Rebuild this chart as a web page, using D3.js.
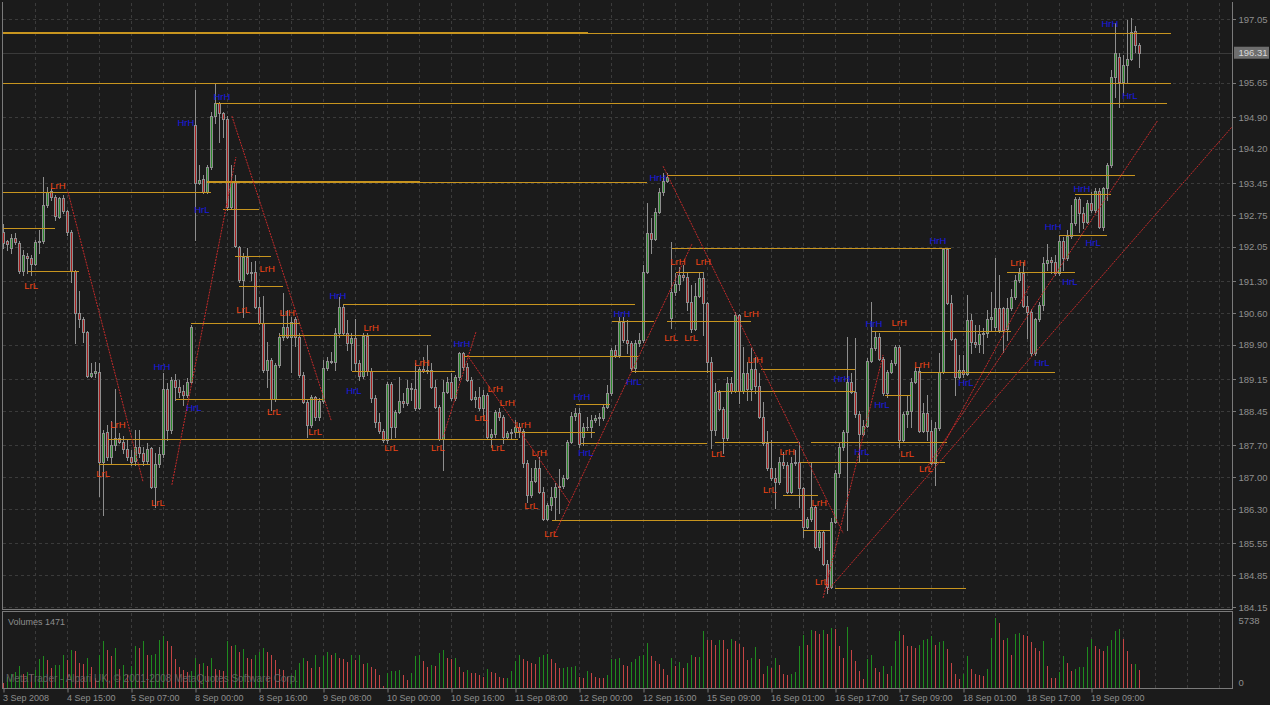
<!DOCTYPE html>
<html><head><meta charset="utf-8">
<script src="https://cdn.jsdelivr.net/npm/d3@7"></script>
<style>body{margin:0;background:#1b1b1b;overflow:hidden}svg{display:block}</style>
</head><body>
<svg id="chart" width="1270" height="705"></svg>
<script>
// ---------- DATA (GBPJPY H1) ----------
const opens=[192.38,192.18,192.03,192.25,192.14,191.52,191.85,191.81,191.68,192.16,192.18,192.97,193.28,193.15,192.71,193.12,192.84,192.38,191.52,190.60,190.47,190.18,189.22,189.28,189.30,187.33,187.99,187.44,187.70,187.86,187.77,187.62,187.44,187.35,187.66,187.53,187.35,187.64,186.78,187.29,187.51,188.93,188.03,189.13,188.98,188.88,188.80,189.09,194.72,193.45,193.54,193.26,193.80,194.92,195.21,194.99,194.86,192.93,193.47,192.05,191.32,191.83,191.48,191.50,190.73,190.38,189.35,189.57,188.71,189.46,190.07,190.29,190.07,190.47,190.07,189.24,188.65,188.14,188.76,188.32,188.67,189.39,189.55,189.53,190.16,190.73,190.16,189.94,190.05,189.50,189.22,190.10,189.33,188.74,188.21,188.01,187.81,189.04,188.10,188.43,188.67,188.63,188.96,188.93,188.52,189.37,189.33,189.35,188.98,188.54,187.84,188.87,189.09,188.74,189.20,189.72,189.42,189.13,188.71,188.76,188.52,188.80,187.88,187.95,188.43,188.32,187.88,187.97,188.00,188.10,188.01,187.31,186.61,186.91,187.20,186.67,186.08,186.39,186.56,186.78,186.80,186.98,187.77,188.34,188.40,187.88,188.10,188.09,188.25,188.30,188.30,188.54,188.84,189.79,189.68,190.40,190.01,189.94,189.39,189.94,190.01,191.50,192.36,192.22,192.82,193.26,193.50,190.49,191.06,191.24,191.43,191.39,190.84,190.25,190.97,191.37,190.82,189.53,188.03,188.87,188.49,187.86,189.07,188.89,190.56,188.89,189.28,188.93,189.37,189.00,188.32,187.75,187.20,186.98,186.89,187.33,187.27,186.67,187.31,187.33,186.76,185.90,186.08,186.34,185.47,185.80,185.09,184.59,186.01,187.09,187.66,187.99,189.09,188.87,188.38,187.95,188.12,189.55,189.83,190.07,189.59,188.84,189.31,189.50,189.85,187.81,188.38,188.45,189.09,189.33,188.01,188.40,188.01,187.31,188.08,189.31,192.01,190.82,190.03,189.20,189.35,189.26,190.45,189.96,189.92,190.14,190.16,190.47,190.30,190.71,190.71,190.25,190.71,190.95,191.32,191.48,190.75,190.62,189.72,190.47,190.78,191.70,191.76,191.72,191.48,192.18,191.81,192.29,192.58,193.10,192.79,192.60,193.01,192.86,193.28,192.49,193.34,193.85,195.78,196.22,195.67,196.04,196.17,196.79,196.48];
const highs=[192.55,192.20,192.33,192.36,192.18,191.98,191.92,191.87,192.20,192.42,193.58,193.36,193.34,193.19,193.15,193.19,192.86,192.42,191.54,191.08,190.51,190.21,189.50,189.53,189.50,188.03,188.14,188.23,188.93,187.97,187.90,187.81,187.60,188.03,188.03,187.66,187.75,187.66,187.53,187.66,189.28,189.07,189.20,189.26,189.13,189.02,189.17,190.34,195.49,193.85,193.63,193.85,195.01,195.65,195.23,195.01,194.92,193.85,193.63,192.07,191.92,192.03,191.72,191.74,190.95,190.97,189.96,189.61,189.50,190.16,191.04,190.67,190.51,190.51,190.16,189.31,188.69,188.80,188.78,188.74,189.57,189.63,189.74,190.27,190.95,190.77,190.45,190.16,190.47,189.57,190.16,190.16,189.39,188.80,188.40,188.05,189.09,189.09,188.47,189.20,188.84,189.13,189.07,189.50,189.42,189.63,189.89,189.50,189.13,188.58,189.13,189.20,189.28,189.24,189.74,189.74,189.50,189.20,188.89,188.98,188.91,188.84,188.05,188.47,188.52,188.36,188.01,188.05,188.25,188.18,188.05,187.38,187.20,187.38,187.44,186.78,186.43,186.78,186.87,187.18,187.05,187.81,188.43,188.52,188.52,188.18,188.32,188.36,188.36,188.40,188.58,189.02,189.83,189.89,190.51,190.51,190.45,189.98,190.01,190.16,191.65,193.01,192.69,192.90,193.34,193.67,193.67,192.16,191.48,191.61,191.65,191.50,191.21,191.26,191.48,191.50,190.84,189.63,189.07,188.91,188.54,189.20,189.20,190.62,190.58,189.85,189.53,189.83,189.63,189.28,188.65,188.01,187.81,187.20,187.44,187.55,187.33,187.44,187.60,187.77,186.78,186.12,187.31,186.39,185.84,185.82,185.18,186.10,187.16,187.77,188.03,190.07,189.28,190.05,188.45,188.25,189.61,190.84,190.18,190.16,189.63,189.35,189.57,189.89,189.89,188.43,188.80,189.17,189.42,189.42,188.63,188.80,188.25,188.21,189.72,192.03,192.03,191.00,190.05,189.68,189.68,191.00,190.58,190.34,190.34,190.27,190.67,191.06,191.81,191.43,190.73,190.93,191.13,191.43,191.59,191.72,190.97,190.69,190.49,190.84,191.83,192.11,191.83,191.87,192.31,192.27,192.42,192.97,193.15,193.15,192.93,193.08,193.26,193.34,193.34,193.36,193.89,195.93,196.96,196.30,196.26,197.03,197.07,196.90,196.52];
const lows=[192.03,191.98,191.92,192.11,191.47,191.43,191.48,191.43,191.65,191.92,192.14,192.93,193.08,192.64,192.68,192.79,192.31,191.28,189.94,190.29,189.96,189.19,189.19,189.20,186.59,186.17,187.38,187.31,187.60,187.75,187.53,187.38,187.27,187.27,187.44,187.27,187.31,186.76,186.34,187.22,187.44,187.81,187.97,188.69,188.76,188.58,188.76,189.07,192.20,193.43,193.23,193.23,193.76,194.77,194.35,194.46,192.86,192.90,192.05,191.28,190.51,191.46,191.32,190.71,190.36,189.31,188.98,188.47,188.67,189.42,190.01,190.05,189.31,189.87,189.20,188.63,187.88,188.10,188.25,188.25,188.63,189.35,189.50,189.35,190.07,190.12,189.79,189.35,189.35,189.13,189.17,189.24,188.65,188.10,187.97,187.77,187.75,187.86,187.88,188.40,188.54,188.58,188.69,188.47,188.50,189.31,189.28,188.96,188.52,187.81,187.16,188.85,188.69,188.69,189.13,189.35,189.11,188.69,188.54,188.47,188.25,187.86,187.66,187.88,188.25,187.75,187.86,187.86,187.88,187.88,187.22,186.45,186.56,186.89,186.65,186.06,186.06,186.28,186.06,186.21,186.76,186.96,187.75,188.25,187.66,187.70,188.03,187.88,188.21,188.14,188.25,188.52,188.80,189.63,189.63,189.96,189.72,189.35,189.31,189.87,189.96,191.48,191.92,192.20,192.79,193.19,193.47,190.27,191.00,191.11,191.32,190.67,190.18,190.23,190.95,190.12,189.31,187.64,187.92,188.47,187.53,187.81,188.85,188.87,188.63,188.85,188.69,188.69,188.85,188.30,187.71,187.16,186.94,186.32,186.85,187.20,186.65,186.65,187.27,186.34,185.68,185.88,186.04,185.44,185.40,185.07,184.46,184.57,185.99,187.00,187.60,185.84,188.85,188.32,187.33,187.92,188.10,189.53,189.79,189.57,188.80,188.76,189.28,189.46,187.66,187.77,188.10,188.10,189.07,187.99,187.99,187.81,187.29,186.83,188.03,189.28,190.80,190.01,188.80,189.17,189.20,189.24,189.72,189.85,189.74,189.72,190.07,190.23,190.23,190.18,189.74,190.01,190.67,190.91,191.28,190.73,190.05,189.68,189.68,190.43,190.67,191.54,191.48,191.43,191.43,191.54,191.76,192.25,192.53,192.38,192.47,192.58,192.82,192.82,192.47,192.42,193.08,193.80,195.34,195.12,195.38,195.67,196.15,196.33,196.00];
const closes=[192.14,192.11,192.25,192.16,191.52,191.87,191.81,191.68,192.16,192.18,192.97,193.26,193.15,192.73,193.12,192.84,192.38,191.52,190.60,190.47,190.18,189.22,189.28,189.33,187.33,187.97,187.44,187.70,187.86,187.77,187.62,187.44,187.33,187.66,187.53,187.35,187.62,186.78,187.29,187.51,188.93,188.03,189.13,188.98,188.86,188.80,189.09,190.29,193.45,193.52,193.26,193.80,194.92,195.21,194.99,194.86,192.93,193.47,192.07,191.32,191.83,191.48,191.50,190.73,190.38,189.35,189.57,188.71,189.46,190.07,190.29,190.07,190.40,190.07,189.24,188.65,188.14,188.76,188.32,188.67,189.39,189.55,189.53,190.16,190.73,190.16,189.94,190.05,189.50,189.22,190.10,189.33,188.74,188.21,188.01,187.81,189.04,188.10,188.43,188.67,188.63,188.96,188.93,188.52,189.37,189.33,189.35,188.98,188.54,187.84,188.87,189.09,188.74,189.20,189.72,189.42,189.13,188.71,188.76,188.52,188.80,187.88,187.95,188.43,188.32,187.88,187.97,188.00,188.10,188.01,187.31,186.61,186.91,187.20,186.67,186.08,186.39,186.56,186.78,186.80,186.98,187.77,188.34,188.40,187.73,188.10,188.09,188.25,188.30,188.32,188.54,188.84,189.79,189.68,190.40,190.01,189.94,189.39,189.94,190.01,191.50,192.36,192.22,192.82,193.26,193.50,193.58,191.06,191.24,191.43,191.39,190.84,190.25,190.97,191.37,190.82,189.53,188.03,188.87,188.49,187.86,189.07,188.89,190.56,188.89,189.28,188.93,189.37,189.00,188.32,187.75,187.20,186.98,186.89,187.33,187.27,186.67,187.31,187.33,186.76,185.90,186.08,186.34,185.47,185.80,185.09,184.59,186.01,187.09,187.66,187.99,189.09,188.87,188.38,187.95,188.12,189.55,189.83,190.07,189.59,188.84,189.31,189.50,189.85,187.81,188.38,188.45,189.09,189.33,188.01,188.40,188.01,187.31,188.08,189.31,192.01,190.82,190.03,189.20,189.35,189.26,190.45,189.96,189.92,190.14,190.16,190.47,190.51,190.71,190.23,190.23,190.71,190.95,191.32,191.48,190.75,190.62,189.72,190.47,190.78,191.70,191.76,191.72,191.48,192.18,191.81,192.29,192.58,193.10,192.79,192.60,193.01,192.86,193.28,192.49,193.34,193.85,195.78,196.30,195.67,196.04,196.17,196.76,196.48,196.31];
const volumes=[405,891,1134,1296,1782,1134,1296,1134,1458,2349,2592,2268,1620,1863,1900,2673,2268,3078,3050,2025,1944,2430,1701,810,2673,3888,3078,2592,3240,1539,1863,1053,1782,3483,3240,3888,2673,2700,2750,3969,4293,3888,3402,2349,1701,1458,1296,1400,2430,1944,2025,1782,2430,1539,1458,1377,3888,3402,3564,2916,3159,2430,2380,2673,2916,3240,2916,2673,2268,1539,1500,891,1053,1458,2025,2430,2187,1620,2673,1700,2592,2916,2673,2835,2430,2349,2106,2673,2268,2673,1944,2025,1701,1539,1053,200,1215,1377,1400,1458,1053,648,1215,2592,2700,2187,1701,1863,1782,2835,3078,2430,2400,2500,1701,1296,1458,1215,1200,1053,891,1539,1296,1215,891,810,850,1377,2187,2673,2349,2187,2025,2000,2511,2673,2754,2349,2025,1620,1650,1700,1750,1800,891,810,1377,1215,891,810,790,1053,2349,2400,2450,1863,1782,2106,2349,2592,2673,3726,2592,2187,1944,1539,1053,2430,1782,2106,1620,2025,2673,2511,2560,4698,3969,3950,3564,3969,3950,3159,4050,3888,3645,3321,2268,2430,3321,2349,1134,1782,1620,2430,1863,1134,1053,1134,1296,3402,4374,3564,4779,4698,4455,4779,4455,4941,4800,3483,2430,5022,3078,2187,1377,729,2349,2673,1620,1296,1782,1134,1782,3888,4698,4374,3483,3402,3240,3564,3969,4050,4293,3564,3807,3888,3159,2025,1134,729,1134,2592,1539,1134,1053,1000,1539,4131,5738,5346,3969,4131,2673,4455,4536,4374,4293,3807,3240,2997,3888,1782,810,790,1296,2592,2025,1377,1539,1701,1750,3321,4050,3483,3159,2997,3483,3969,4698,4860,4050,2997,1944,2000,1471];

const priceTicks=[197.05,195.65,194.90,194.20,193.45,192.75,192.05,191.30,190.60,189.90,189.15,188.45,187.70,187.00,186.30,185.55,184.85,184.15];
const currentPrice=196.31;
const timeTickBars=[0,16,32,48,64,80,96,112,128,144,160,176,192,208,224,240,256,272];
const timeTickLabels=["3 Sep 2008","4 Sep 15:00","5 Sep 07:00","8 Sep 00:00","8 Sep 16:00","9 Sep 08:00","10 Sep 00:00","10 Sep 16:00","11 Sep 08:00","12 Sep 00:00","12 Sep 16:00","15 Sep 09:00","16 Sep 01:00","16 Sep 17:00","17 Sep 09:00","18 Sep 01:00","18 Sep 17:00","19 Sep 09:00"];

// horizontal level lines (bar from, bar to, price)
const levelStart=[-0.1,-0.1,-0.1,53.1,50.9,50.9,165.9,-0.1,54.9,-0.1,57.9,6.1,58.9,46.9,68.9,43.1,26.1,23.9,84.9,115.1,87.1,157.1,143.1,127.9,144.4,137.1,167.1,168.1,165.9,152.1,217.1,189.4,228.9,178.4,220.4,177.9,201.9,199.1,194.9,199.9,207.9,267.9,263.9,250.9];
const levelEnd=[291.9,146.1,291.9,290.9,160.9,104.1,282.9,51.9,63.9,12.9,66.9,18.9,69.9,74.1,106.9,79.9,128.6,36.6,157.9,158.6,112.9,182.4,151.6,147.9,175.9,199.6,236.9,174.9,186.9,162.6,251.9,212.9,262.9,212.9,226.9,198.6,235.9,235.4,203.6,206.6,240.6,276.9,275.9,267.9];
const levelPrice=[196.74,196.76,195.65,195.21,193.47,193.49,193.63,193.26,192.88,192.47,191.85,191.52,191.19,190.38,190.12,188.71,187.84,187.29,190.80,189.66,189.33,189.33,188.60,187.99,187.75,186.06,192.03,191.50,190.42,190.42,190.21,189.37,189.31,188.89,188.80,187.77,187.77,187.33,186.61,185.84,184.57,193.21,192.31,191.50];

// trend lines
const trendBar1=[16.1,42.1,57.1,109.9,115.9,137.9,164.9,204.9,206.1,230.4,231.6];
const trendPrice1=[193.26,186.83,194.92,187.88,189.68,185.77,193.82,184.35,184.52,187.16,187.16];
const trendBar2=[34.9,58.1,81.9,118.1,141.6,172.1,209.9,219.9,307.1,288.6,256.6];
const trendPrice2=[186.89,194.02,188.25,190.18,186.43,192.11,185.77,189.68,194.68,194.83,191.21];

// text markers
const markText=["LrH","LrL","HrH","HrH","HrL","LrH","LrL","LrH","LrL","HrH","HrL","LrH","LrL","LrL","HrH","LrH","HrL","LrL","LrH","LrL","LrL","HrH","LrH","LrH","LrL","LrL","LrH","LrH","LrL","LrL","HrH","HrL","HrH","HrH","HrL","LrH","LrH","LrL","LrL","LrH","LrH","LrL","LrH","LrL","LrH","LrL","HrH","HrL","HrH","LrH","HrL","LrL","LrL","LrH","HrH","HrL","LrH","HrL","HrL","HrL","HrH","HrH","HrH","HrL"];
const markBar=[13.6,6.9,45.6,54.6,49.6,65.9,59.9,70.9,67.6,39.6,47.6,28.6,24.9,38.6,83.6,91.9,87.6,77.9,104.6,96.9,108.6,114.6,122.9,125.9,119.4,123.6,129.9,133.9,131.9,136.9,144.6,145.6,163.6,154.6,157.6,168.6,174.9,166.9,171.9,186.9,187.9,178.6,195.9,191.6,203.9,204.6,209.6,214.6,217.6,223.9,219.6,225.9,230.6,229.6,233.6,240.6,253.6,259.6,266.6,272.4,262.4,269.6,276.6,281.6];
const markPrice=[193.39,191.21,194.79,195.36,192.86,191.57,190.67,190.62,188.43,189.42,188.52,188.16,187.07,186.45,190.99,190.29,188.91,187.99,189.52,187.64,187.64,189.92,188.95,188.63,188.30,187.64,188.16,187.53,186.37,185.77,188.76,187.55,193.58,190.58,189.09,191.72,191.74,190.07,190.07,190.58,189.57,187.51,187.57,186.72,186.45,184.70,189.17,187.57,190.38,190.40,188.60,187.51,187.18,189.48,192.18,189.07,191.70,189.52,191.30,192.14,192.49,193.34,196.96,195.38];

// ---------- DRAW ----------
const svg=d3.select("#chart");
const FONT="'Liberation Sans', Arial, sans-serif";
const C={bg:"#1b1b1b",grid:"#3b3b3b",frame:"#7a7a7a",text:"#8e8e8e",wick:"#8e8e8e",bull:"#2b8a2b",bear:"#a81e1e",
  vUp:"#1f8a1f",vDn:"#c44444",level:"#c8951f",trend:"#c42a2a",lo:"#f04515",hi:"#1a1ae0"};

const x=d3.scaleLinear().domain([0,307]).range([3.5,1231.5]);
const y=d3.scaleLinear().domain([184.15,197.05]).range([607,19]);
const yv=d3.scaleLinear().domain([0,5738]).range([688,618]);
const n=closes.length;

svg.append("rect").attr("width",1270).attr("height",705).attr("fill",C.bg);

const defs=svg.append("defs");
defs.append("clipPath").attr("id","mainClip").append("rect").attr("x",3).attr("y",3).attr("width",1229).attr("height",606);
defs.append("clipPath").attr("id","volClip").append("rect").attr("x",3).attr("y",613).attr("width",1229).attr("height",75);

// grid
const grid=svg.append("g").attr("stroke",C.grid).attr("stroke-dasharray","3,3").attr("shape-rendering","crispEdges");
grid.selectAll("line.h").data(priceTicks).join("line").attr("class","h")
  .attr("x1",3).attr("x2",1232).attr("y1",d=>Math.round(y(d))+0.5).attr("y2",d=>Math.round(y(d))+0.5);
const vBars=d3.range(8,308,8);
grid.selectAll("line.v").data(vBars).join("line").attr("class","v")
  .attr("x1",d=>x(d)).attr("x2",d=>x(d)).attr("y1",3).attr("y2",609);
grid.selectAll("line.vv").data(vBars).join("line").attr("class","vv")
  .attr("x1",d=>x(d)).attr("x2",d=>x(d)).attr("y1",613).attr("y2",688);

const main=svg.append("g").attr("clip-path","url(#mainClip)");
// bid line
main.append("line").attr("x1",3).attr("x2",1232).attr("y1",Math.round(y(currentPrice))+0.5).attr("y2",Math.round(y(currentPrice))+0.5)
  .attr("stroke","#3a3a3a").attr("stroke-width",1);

// candles
const idx=d3.range(n);
const cg=main.append("g");
cg.selectAll("line.w").data(idx).join("line").attr("class","w")
  .attr("x1",i=>x(i)).attr("x2",i=>x(i))
  .attr("y1",i=>Math.round(y(highs[i]))).attr("y2",i=>Math.round(y(lows[i]))+1)
  .attr("stroke",C.wick).attr("stroke-width",1);
cg.selectAll("rect.b").data(idx).join("rect").attr("class","b")
  .attr("x",i=>x(i)-1).attr("width",2)
  .attr("y",i=>Math.round(y(Math.max(opens[i],closes[i])))+0.5)
  .attr("height",i=>Math.max(0.01,Math.round(y(Math.min(opens[i],closes[i])))-Math.round(y(Math.max(opens[i],closes[i])))))
  .attr("fill",i=>closes[i]>=opens[i]?C.bull:C.bear)
  .attr("stroke",C.wick).attr("stroke-width",1);

// level lines
const levels=d3.range(levelPrice.length);
main.append("g").selectAll("line").data(levels).join("line")
  .attr("x1",k=>x(levelStart[k])).attr("x2",k=>x(levelEnd[k]))
  .attr("y1",k=>Math.round(y(levelPrice[k]))+0.5).attr("y2",k=>Math.round(y(levelPrice[k]))+0.5)
  .attr("stroke",C.level).attr("stroke-width",1).attr("shape-rendering","crispEdges");

// trend lines
main.append("g").selectAll("line").data(d3.range(trendBar1.length)).join("line")
  .attr("x1",k=>x(trendBar1[k])).attr("y1",k=>y(trendPrice1[k]))
  .attr("x2",k=>x(trendBar2[k])).attr("y2",k=>y(trendPrice2[k]))
  .attr("stroke",C.trend).attr("stroke-width",1).attr("stroke-dasharray","2,1");

// markers
main.append("g").selectAll("text").data(d3.range(markText.length)).join("text")
  .attr("x",k=>x(markBar[k])).attr("y",k=>y(markPrice[k]))
  .attr("text-anchor","middle").attr("dominant-baseline","central")
  .attr("font-family",FONT).attr("font-size","9.5px")
  .attr("fill",k=>markText[k][0]==="L"?C.lo:C.hi)
  .text(k=>markText[k]);

// volumes
const vg=svg.append("g").attr("clip-path","url(#volClip)");
vg.selectAll("line").data(idx).join("line")
  .attr("x1",i=>x(i)).attr("x2",i=>x(i))
  .attr("y1",yv(0)).attr("y2",i=>Math.round(yv(volumes[i])))
  .attr("stroke",i=>(i>0&&volumes[i]>volumes[i-1])?C.vUp:C.vDn).attr("stroke-width",1);

svg.append("text").attr("x",6).attr("y",682).attr("font-family",FONT).attr("font-size","10px")
  .attr("fill","#6c6c6c").attr("fill-opacity",0.85)
  .text("MetaTrader - Alpari UK, \u00A9 2001-2008 MetaQuotes Software Corp.");
svg.append("text").attr("x",8).attr("y",625).attr("font-family",FONT).attr("font-size","9px")
  .attr("fill",C.text).text("Volumes "+volumes[n-1]);

// frames
const fr=svg.append("g").attr("stroke",C.frame).attr("fill","none").attr("shape-rendering","crispEdges");
fr.append("path").attr("d","M2.5,2V609.5H1232.5V2");
fr.append("path").attr("d","M2.5,611.5H1232.5V688.5H2.5Z");

// price axis
const ay=d3.axisRight(y).tickValues(priceTicks).tickFormat(d3.format(".2f")).tickSize(3).tickPadding(3);
const axg=svg.append("g").attr("transform","translate(1232.5,0)").call(ay);
axg.select(".domain").remove();
axg.selectAll("line").attr("stroke",C.frame).attr("shape-rendering","crispEdges");
axg.selectAll("text").attr("fill",C.text).attr("font-family",FONT).attr("font-size","9.5px");

// current price box
const cy=y(currentPrice);
svg.append("rect").attr("x",1234).attr("y",cy-6).attr("width",35).attr("height",12).attr("fill","#6e6e6e");
svg.append("text").attr("x",1238.5).attr("y",cy).attr("dominant-baseline","central").attr("font-family",FONT)
  .attr("font-size","9.5px").attr("fill","#d8d8d8").text(d3.format(".2f")(currentPrice));

// volume axis
const vTicks=[0,d3.max(volumes)];
svg.append("g").selectAll("text").data(vTicks).join("text")
  .attr("x",1238.5).attr("y",d=>d===0?yv(d)-6:yv(d)+2).attr("dominant-baseline","central")
  .attr("font-family",FONT).attr("font-size","9.5px").attr("fill",C.text).text(d=>d);

// time axis
const ax=d3.axisBottom(x).tickValues(timeTickBars).tickFormat((d,k)=>timeTickLabels[k]).tickSize(4).tickPadding(2);
const txg=svg.append("g").attr("transform","translate(0,688.5)").call(ax);
txg.select(".domain").remove();
txg.selectAll("line").attr("stroke",C.frame);
txg.selectAll("text").attr("fill",C.text).attr("font-family",FONT).attr("font-size","9px")
  .attr("text-anchor","start").attr("dx","-1");
</script>
</body></html>
